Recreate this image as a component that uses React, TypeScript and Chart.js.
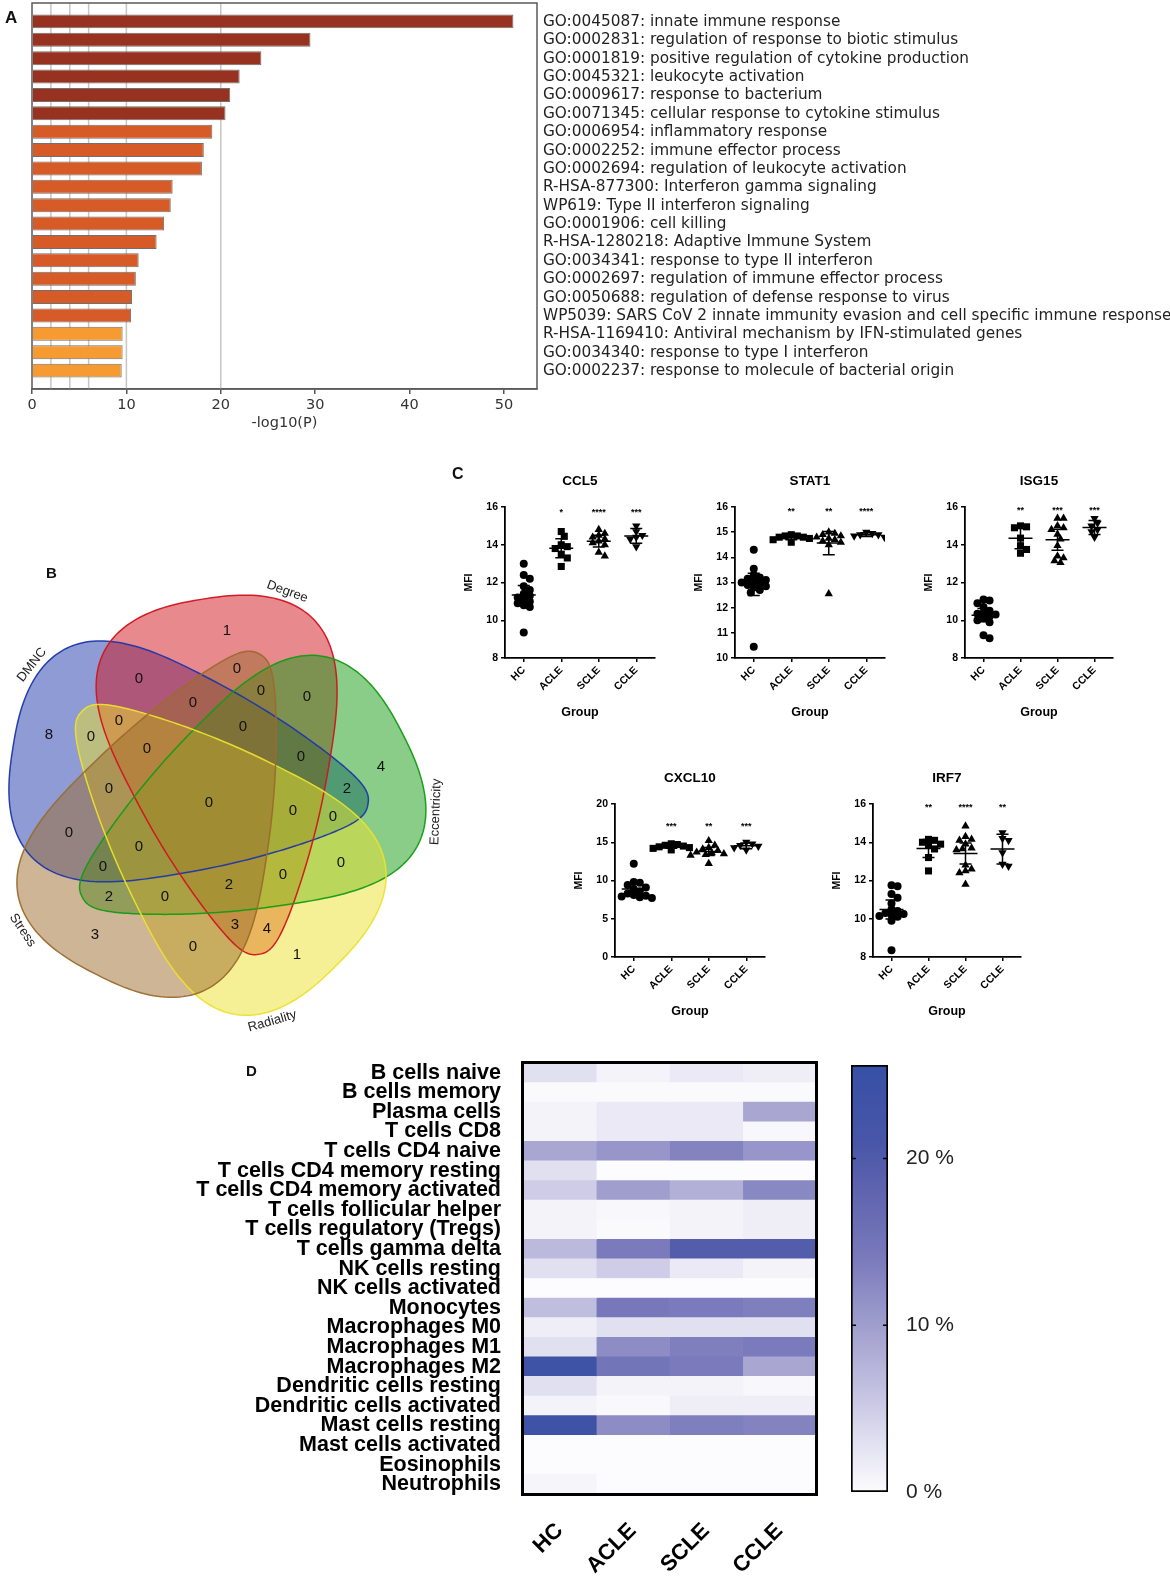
import React, { useEffect, useRef } from "react";
import { Chart, registerables } from "chart.js";

Chart.register(...registerables);
const SANS = '"Liberation Sans", Arial, sans-serif';
const DEJAVU = '"DejaVu Sans", sans-serif';
Chart.defaults.font.family = SANS;

// ---------------- Panel A data ----------------
const enrichTerms = [
  "GO:0045087: innate immune response",
  "GO:0002831: regulation of response to biotic stimulus",
  "GO:0001819: positive regulation of cytokine production",
  "GO:0045321: leukocyte activation",
  "GO:0009617: response to bacterium",
  "GO:0071345: cellular response to cytokine stimulus",
  "GO:0006954: inflammatory response",
  "GO:0002252: immune effector process",
  "GO:0002694: regulation of leukocyte activation",
  "R-HSA-877300: Interferon gamma signaling",
  "WP619: Type II interferon signaling",
  "GO:0001906: cell killing",
  "R-HSA-1280218: Adaptive Immune System",
  "GO:0034341: response to type II interferon",
  "GO:0002697: regulation of immune effector process",
  "GO:0050688: regulation of defense response to virus",
  "WP5039: SARS CoV 2 innate immunity evasion and cell specific immune response",
  "R-HSA-1169410: Antiviral mechanism by IFN-stimulated genes",
  "GO:0034340: response to type I interferon",
  "GO:0002237: response to molecule of bacterial origin",
];
const enrichLogP = [51.0, 29.5, 24.3, 22.0, 21.0, 20.5, 19.1, 18.2, 18.0, 14.9, 14.7, 14.0, 13.2, 11.3, 11.0, 10.6, 10.5, 9.6, 9.6, 9.5];
const enrichTicks = [0, 10, 20, 30, 40, 50];
const enrichGridLines = [2, 4, 6, 10, 20];

// ---------------- Panel B data ----------------
const vennSets = ["DMNC", "Degree", "Eccentricity", "Radiality", "Stress"];
const vennRegions = [
  "DMNC", "Degree", "Eccentricity", "Radiality", "Stress",
  "DMNC&Degree", "DMNC&Eccentricity", "DMNC&Radiality", "DMNC&Stress", "Degree&Eccentricity",
  "Degree&Radiality", "Degree&Stress", "Eccentricity&Radiality", "Eccentricity&Stress", "Radiality&Stress",
  "DMNC&Degree&Eccentricity", "DMNC&Degree&Radiality", "DMNC&Degree&Stress", "DMNC&Eccentricity&Radiality",
  "DMNC&Eccentricity&Stress", "DMNC&Radiality&Stress", "Degree&Eccentricity&Radiality", "Degree&Eccentricity&Stress",
  "Degree&Radiality&Stress", "Eccentricity&Radiality&Stress",
  "DMNC&Degree&Eccentricity&Radiality", "DMNC&Degree&Eccentricity&Stress", "DMNC&Degree&Radiality&Stress",
  "DMNC&Eccentricity&Radiality&Stress", "Degree&Eccentricity&Radiality&Stress",
  "DMNC&Degree&Eccentricity&Radiality&Stress",
];
const vennCounts = [
  8, 1, 4, 1, 3,
  0, 2, 0, 0, 0,
  4, 0, 0, 2, 0,
  0, 0, 0, 0,
  0, 0, 0, 0,
  3, 0,
  0, 0, 0,
  0, 2,
  0,
];

// ---------------- Panel C data ----------------
const groups = ["HC", "ACLE", "SCLE", "CCLE"];
const ccl5HC = [13.0, 12.4, 12.2, 11.8, 11.6, 11.4, 11.3, 11.2, 11.1, 11.0, 10.9, 10.8, 10.7, 9.35];
const ccl5ACLE = [14.7, 14.45, 14.0, 13.9, 13.8, 13.5, 13.3, 12.85];
const ccl5SCLE = [14.8, 14.6, 14.5, 14.4, 14.3, 14.2, 14.1, 14.0, 13.6, 13.4];
const ccl5CCLE = [15.0, 14.7, 14.5, 14.4, 14.3, 13.9];
const stat1HC = [14.3, 13.55, 13.3, 13.2, 13.15, 13.1, 13.05, 13.0, 12.95, 12.9, 12.85, 12.8, 12.7, 12.6, 10.45];
const stat1ACLE = [14.9, 14.85, 14.85, 14.8, 14.8, 14.75, 14.7, 14.6];
const stat1SCLE = [15.0, 14.95, 14.9, 14.85, 14.8, 14.75, 14.7, 14.65, 14.6, 14.5, 12.55];
const stat1CCLE = [15.0, 14.95, 14.9, 14.9, 14.85, 14.8];
const isg15HC = [11.1, 11.05, 10.9, 10.7, 10.5, 10.4, 10.35, 10.3, 10.2, 10.1, 10.0, 9.9, 9.2, 9.05];
const isg15ACLE = [15.0, 14.95, 14.9, 14.35, 13.95, 13.75, 13.55];
const isg15SCLE = [15.4, 15.4, 15.0, 14.9, 14.8, 14.55, 14.3, 13.95, 13.4, 13.3, 13.15, 13.05];
const isg15CCLE = [15.4, 15.15, 15.0, 14.8, 14.7, 14.4];
const cxcl10HC = [12.2, 9.8, 9.7, 9.4, 9.1, 8.9, 8.6, 8.3, 8.1, 8.0, 7.9, 7.8, 7.7];
const cxcl10ACLE = [14.8, 14.7, 14.6, 14.5, 14.4, 14.3, 14.2, 14.0];
const cxcl10SCLE = [15.2, 14.6, 14.3, 14.1, 13.9, 13.7, 13.6, 13.5, 13.4, 13.3, 12.2];
const cxcl10CCLE = [15.0, 14.8, 14.6, 14.5, 14.3, 14.0];
const irf7HC = [11.75, 11.7, 11.3, 11.1, 10.8, 10.5, 10.4, 10.3, 10.25, 10.2, 10.15, 10.1, 9.9, 8.35];
const irf7ACLE = [14.15, 14.1, 14.0, 13.9, 13.85, 13.65, 13.2, 12.5];
const irf7SCLE = [14.85, 14.3, 14.15, 14.1, 13.9, 13.7, 13.65, 13.6, 12.8, 12.6, 12.5, 12.4, 11.8];
const irf7CCLE = [14.5, 14.2, 14.1, 13.45, 12.85, 12.75];
const ccl5Stars = ["", "*", "****", "***"];
const stat1Stars = ["", "**", "**", "****"];
const isg15Stars = ["", "**", "***", "***"];
const cxcl10Stars = ["", "***", "**", "***"];
const irf7Stars = ["", "**", "****", "**"];
const mfiTicks8to16 = [8, 10, 12, 14, 16];
const mfiTicks10to16 = [10, 11, 12, 13, 14, 15, 16];
const mfiTicks0to20 = [0, 5, 10, 15, 20];

// ---------------- Panel D data ----------------
const cellTypes = [
  "B cells naive", "B cells memory", "Plasma cells", "T cells CD8", "T cells CD4 naive",
  "T cells CD4 memory resting", "T cells CD4 memory activated", "T cells follicular helper",
  "T cells regulatory (Tregs)", "T cells gamma delta", "NK cells resting", "NK cells activated",
  "Monocytes", "Macrophages M0", "Macrophages M1", "Macrophages M2", "Dendritic cells resting",
  "Dendritic cells activated", "Mast cells resting", "Mast cells activated", "Eosinophils", "Neutrophils",
];
const heatGroups = ["HC", "ACLE", "SCLE", "CCLE"];
const heatHC = [3, 0.2, 1, 1, 9, 3, 5, 1, 1, 7, 3, 0, 6.5, 1.5, 3, 23.5, 3, 1, 23.5, 0, 0, 0.8];
const heatACLE = [1, 0.2, 2, 2, 11, 0, 10, 0.5, 0.2, 14, 5, 0, 14.5, 3, 12, 15, 1, 0.3, 12, 0, 0, 0];
const heatSCLE = [2, 0.2, 2, 2, 13, 0, 8, 1, 1, 19.5, 2, 0, 14, 3, 13.5, 14, 1, 1.5, 13.5, 0, 0, 0];
const heatCCLE = [1.5, 0.2, 9, 0.5, 11, 0, 12.5, 1.5, 1.5, 19.5, 1, 0, 13.5, 3, 14, 9, 0.5, 1.5, 13, 0, 0, 0];
const colorbarTicks = [0, 10, 20];
const colorbarMax = 25.6;

// ---------------- styles ----------------
const heatStops: [number, number[]][] = [
  [0, [252, 252, 254]], [3, [225, 224, 240]], [6, [196, 194, 225]], [10, [160, 158, 205]],
  [14, [122, 122, 188]], [18, [95, 100, 175]], [21, [72, 86, 168]], [25.6, [55, 80, 165]],
];
function heatColor(v: number) {
  for (let i = 1; i < heatStops.length; i++) {
    const [v1, c1] = heatStops[i];
    const [v0, c0] = heatStops[i - 1];
    if (v <= v1) {
      const t = (v - v0) / (v1 - v0);
      const c = c0.map((a, k) => Math.round(a + (c1[k] - a) * t));
      return `rgb(${c[0]},${c[1]},${c[2]})`;
    }
  }
  const c = heatStops[heatStops.length - 1][1];
  return `rgb(${c[0]},${c[1]},${c[2]})`;
}
const vennColors = [[30, 55, 170], [210, 20, 30], [20, 155, 20], [235, 225, 45], [155, 108, 45]];
const VENN_BASE = { cx: 210, cy: 804, rLobe: 205, lobeAngle0: 196, labelOffset: 22 };
const VENN_NOMINAL = { B: 100, k: 0.6, p: 2.5, rTip: 158, tipDelta: 158 };
const VENN_SEARCH = { B: [95, 100, 105], k: [0.5, 0.6, 0.7], rTip: [152, 158, 165], tipDelta: [152, 158, 164] };
const VBOX = { x0: 0, y0: 560, w: 446, h: 480 };

// ---------------- Panel A ----------------
function barColor(v: number) {
  return v >= 20 ? "#96321f" : v >= 10 ? "#d65b26" : "#f59b32";
}
function makeEnrichment(canvas: HTMLCanvasElement) {
  const plugin = {
    id: "enrichDeco",
    beforeDatasetsDraw(chart: any) {
      const { ctx, chartArea: a, scales } = chart;
      ctx.save();
      ctx.strokeStyle = "#c6c6c6";
      ctx.lineWidth = 1.5;
      enrichGridLines.forEach((v) => {
        const px = scales.x.getPixelForValue(v);
        ctx.beginPath();
        ctx.moveTo(px, a.top);
        ctx.lineTo(px, a.bottom);
        ctx.stroke();
      });
      ctx.restore();
    },
    afterDatasetsDraw(chart: any) {
      const { ctx, chartArea: a, scales } = chart;
      ctx.save();
      ctx.strokeStyle = "#5a5a5a";
      ctx.lineWidth = 1.5;
      ctx.strokeRect(a.left, a.top, a.right - a.left, a.bottom - a.top);
      ctx.fillStyle = "#222";
      ctx.font = `15.3px ${DEJAVU}`;
      ctx.textBaseline = "middle";
      ctx.textAlign = "left";
      enrichTerms.forEach((t, i) => ctx.fillText(t, a.right + 6, scales.y.getPixelForValue(i) + 0.5));
      ctx.restore();
    },
  };
  return new Chart(canvas, {
    type: "bar",
    data: {
      datasets: [
        {
          data: enrichLogP.map((v, i) => ({ x: v, y: i })),
          backgroundColor: enrichLogP.map(barColor),
          borderColor: "#707070",
          borderWidth: 1,
          barPercentage: 0.76,
          categoryPercentage: 1,
        } as any,
      ],
    },
    options: {
      indexAxis: "y",
      animation: false,
      responsive: false,
      events: [],
      layout: { padding: { left: 32, right: 633, top: 3, bottom: 0 } },
      plugins: { legend: { display: false }, tooltip: { enabled: false } },
      scales: {
        x: {
          type: "linear",
          min: 0,
          max: 53.5,
          afterBuildTicks: (s: any) => {
            s.ticks = enrichTicks.map((v) => ({ value: v }));
          },
          afterFit: (s: any) => {
            s.height = 47;
          },
          ticks: { font: { family: DEJAVU, size: 14.5 }, color: "#333", padding: 3 },
          grid: { drawOnChartArea: false, tickLength: 5, color: "#555", lineWidth: 1.5 },
          border: { color: "#5a5a5a", width: 1.5 },
          title: { display: true, text: "-log10(P)", font: { family: DEJAVU, size: 14.5 }, color: "#333", padding: { top: 4, bottom: 4 } },
        },
        y: { type: "linear", min: -1, max: 20, reverse: true, offset: false, display: false },
      },
    } as any,
    plugins: [plugin],
  });
}

// ---------------- Panel B ----------------
function vennShape(i: number, prm: any) {
  const th = ((VENN_BASE.lobeAngle0 + 72 * i) * Math.PI) / 180;
  const tt = th + (prm.tipDelta * Math.PI) / 180;
  const L = [VENN_BASE.cx + VENN_BASE.rLobe * Math.cos(th), VENN_BASE.cy + VENN_BASE.rLobe * Math.sin(th)];
  const T = [VENN_BASE.cx + prm.rTip * Math.cos(tt), VENN_BASE.cy + prm.rTip * Math.sin(tt)];
  return {
    mx: (L[0] + T[0]) / 2,
    my: (L[1] + T[1]) / 2,
    A: Math.hypot(L[0] - T[0], L[1] - T[1]) / 2,
    rot: Math.atan2(L[1] - T[1], L[0] - T[0]),
    th,
    B: prm.B,
    k: prm.k,
    p: prm.p,
  };
}
function inShape(s: any, x: number, y: number) {
  const dx = x - s.mx, dy = y - s.my;
  const c = Math.cos(s.rot), sn = Math.sin(s.rot);
  const u = dx * c + dy * sn, v = -dx * sn + dy * c;
  if (Math.abs(u) >= s.A) return false;
  const b = s.B * (1 + (s.k * u) / s.A);
  return Math.pow(Math.abs(u / s.A), s.p) + Math.pow(Math.abs(v / b), s.p) <= 1;
}
function shapePoint(s: any, t: number) {
  const ct = Math.cos(t), st = Math.sin(t);
  const u = s.A * Math.sign(ct) * Math.pow(Math.abs(ct), 2 / s.p);
  const b = s.B * (1 + (s.k * u) / s.A);
  const v = b * Math.sign(st) * Math.pow(Math.abs(st), 2 / s.p);
  const c = Math.cos(s.rot), sn = Math.sin(s.rot);
  return [s.mx + u * c - v * sn, s.my + u * sn + v * c];
}
function analyseVenn(shapes: any[], step: number) {
  const x0 = VBOX.x0, y0 = VBOX.y0, nx = Math.floor(VBOX.w / step), ny = Math.floor(VBOX.h / step);
  const mask = new Int32Array(nx * ny);
  for (let j = 0; j < ny; j++)
    for (let i = 0; i < nx; i++) {
      const px = x0 + (i + 0.5) * step, py = y0 + (j + 0.5) * step;
      let m = 0;
      for (let k = 0; k < shapes.length; k++) if (inShape(shapes[k], px, py)) m |= 1 << k;
      mask[j * nx + i] = m;
    }
  const d = new Float32Array(nx * ny);
  for (let j = 0; j < ny; j++)
    for (let i = 0; i < nx; i++) {
      const idx = j * nx + i, m = mask[idx];
      let edge = i === 0 || j === 0 || i === nx - 1 || j === ny - 1;
      if (!edge) edge = mask[idx - 1] !== m || mask[idx + 1] !== m || mask[idx - nx] !== m || mask[idx + nx] !== m;
      d[idx] = edge ? 0 : 1e9;
    }
  for (let j = 0; j < ny; j++)
    for (let i = 0; i < nx; i++) {
      const idx = j * nx + i;
      let v = d[idx];
      if (i > 0) v = Math.min(v, d[idx - 1] + 1);
      if (j > 0) {
        v = Math.min(v, d[idx - nx] + 1);
        if (i > 0) v = Math.min(v, d[idx - nx - 1] + 1.414);
        if (i < nx - 1) v = Math.min(v, d[idx - nx + 1] + 1.414);
      }
      d[idx] = v;
    }
  for (let j = ny - 1; j >= 0; j--)
    for (let i = nx - 1; i >= 0; i--) {
      const idx = j * nx + i;
      let v = d[idx];
      if (i < nx - 1) v = Math.min(v, d[idx + 1] + 1);
      if (j < ny - 1) {
        v = Math.min(v, d[idx + nx] + 1);
        if (i < nx - 1) v = Math.min(v, d[idx + nx + 1] + 1.414);
        if (i > 0) v = Math.min(v, d[idx + nx - 1] + 1.414);
      }
      d[idx] = v;
    }
  // per-region maximum depth and centroid
  const maxD = new Float32Array(32);
  const sx = new Float64Array(32), sy = new Float64Array(32), cnt = new Float64Array(32);
  for (let j = 0; j < ny; j++)
    for (let i = 0; i < nx; i++) {
      const idx = j * nx + i, m = mask[idx];
      if (!m) continue;
      if (d[idx] > maxD[m]) maxD[m] = d[idx];
      sx[m] += i;
      sy[m] += j;
      cnt[m] += 1;
    }
  // label point: among deep-enough cells, the one nearest the region centroid
  const best = new Map<number, any>();
  for (let j = 0; j < ny; j++)
    for (let i = 0; i < nx; i++) {
      const idx = j * nx + i, m = mask[idx];
      if (!m || d[idx] < 0.72 * maxD[m]) continue;
      const gx = sx[m] / cnt[m], gy = sy[m] / cnt[m];
      const dist = Math.hypot(i - gx, j - gy);
      const cur = best.get(m);
      if (!cur || dist < cur.dist) best.set(m, { d: maxD[m], dist, x: x0 + (i + 0.5) * step, y: y0 + (j + 0.5) * step });
    }
  let minDepth = Infinity;
  for (let m = 1; m < 32; m++) minDepth = Math.min(minDepth, cnt[m] ? maxD[m] * step : 0);
  return { best, minDepth };
}
function chooseVennParams() {
  const nominalShapes = vennSets.map((_, i) => vennShape(i, VENN_NOMINAL));
  if (analyseVenn(nominalShapes, 4).minDepth >= 6) return VENN_NOMINAL;
  let chosen: any = null, chosenDist = Infinity, fallback: any = VENN_NOMINAL, fallbackDepth = -1;
  for (const B of VENN_SEARCH.B)
    for (const k of VENN_SEARCH.k)
      for (const rTip of VENN_SEARCH.rTip)
        for (const tipDelta of VENN_SEARCH.tipDelta) {
          const prm = { B, k, p: VENN_NOMINAL.p, rTip, tipDelta };
          const shapes = vennSets.map((_, i) => vennShape(i, prm));
          const { minDepth } = analyseVenn(shapes, 4);
          const dist =
            Math.abs(B - VENN_NOMINAL.B) / 5 +
            Math.abs(k - VENN_NOMINAL.k) / 0.1 +
            Math.abs(rTip - VENN_NOMINAL.rTip) / 7 +
            Math.abs(tipDelta - VENN_NOMINAL.tipDelta) / 6;
          if (minDepth >= 6 && dist < chosenDist) {
            chosen = prm;
            chosenDist = dist;
          }
          if (minDepth > fallbackDepth) {
            fallback = prm;
            fallbackDepth = minDepth;
          }
        }
  return chosen || fallback;
}
function makeVenn(canvas: HTMLCanvasElement) {
  const prm = chooseVennParams();
  const shapes = vennSets.map((_, i) => vennShape(i, prm));
  const labels = analyseVenn(shapes, 2).best;
  const plugin = {
    id: "venn",
    afterDatasetsDraw(chart: any) {
      const { ctx, scales } = chart;
      const P = (p: number[]) => [scales.x.getPixelForValue(p[0]), scales.y.getPixelForValue(p[1])];
      const path = (s: any) => {
        ctx.beginPath();
        for (let k = 0; k <= 240; k++) {
          const [px, py] = P(shapePoint(s, (k / 240) * Math.PI * 2));
          if (k === 0) ctx.moveTo(px, py);
          else ctx.lineTo(px, py);
        }
        ctx.closePath();
      };
      ctx.save();
      shapes.forEach((s, i) => {
        const c = vennColors[i];
        path(s);
        ctx.fillStyle = `rgba(${c[0]},${c[1]},${c[2]},0.5)`;
        ctx.fill();
      });
      shapes.forEach((s, i) => {
        const c = vennColors[i];
        path(s);
        ctx.strokeStyle = `rgba(${c[0]},${c[1]},${c[2]},0.95)`;
        ctx.lineWidth = 1.5;
        ctx.stroke();
      });
      ctx.fillStyle = "#111";
      ctx.font = `15px ${SANS}`;
      ctx.textAlign = "center";
      ctx.textBaseline = "middle";
      vennRegions.forEach((name, r) => {
        const m = name.split("&").reduce((acc, n) => acc | (1 << vennSets.indexOf(n)), 0);
        const p = labels.get(m);
        if (!p) return;
        const [px, py] = P([p.x, p.y]);
        ctx.fillText(String(vennCounts[r]), px, py);
      });
      ctx.font = `13px ${SANS}`;
      ctx.fillStyle = "#222";
      shapes.forEach((s, i) => {
        const ang = s.th + (VENN_BASE.labelOffset * Math.PI) / 180;
        let r = 60;
        while (r < 300 && inShape(s, VENN_BASE.cx + r * Math.cos(ang), VENN_BASE.cy + r * Math.sin(ang))) r += 1;
        r += 9;
        const pos = P([VENN_BASE.cx + r * Math.cos(ang), VENN_BASE.cy + r * Math.sin(ang)]);
        let rot = ang + Math.PI / 2;
        while (rot > Math.PI) rot -= 2 * Math.PI;
        while (rot <= -Math.PI) rot += 2 * Math.PI;
        if (rot > Math.PI / 2) rot -= Math.PI;
        if (rot < -Math.PI / 2) rot += Math.PI;
        ctx.save();
        ctx.translate(pos[0], pos[1]);
        ctx.rotate(rot);
        ctx.fillText(vennSets[i], 0, 0);
        ctx.restore();
      });
      ctx.restore();
    },
  };
  return new Chart(canvas, {
    type: "scatter",
    data: { datasets: [] },
    options: {
      animation: false,
      responsive: false,
      events: [],
      layout: { padding: 0 },
      plugins: { legend: { display: false }, tooltip: { enabled: false } },
      scales: {
        x: { type: "linear", min: VBOX.x0, max: VBOX.x0 + VBOX.w, display: false },
        y: { type: "linear", min: VBOX.y0, max: VBOX.y0 + VBOX.h, reverse: true, display: false },
      },
    } as any,
    plugins: [plugin],
  });
}

// ---------------- Panel C ----------------
const genePanels = [
  { title: "CCL5", values: [ccl5HC, ccl5ACLE, ccl5SCLE, ccl5CCLE], stars: ccl5Stars, ticks: mfiTicks8to16, starY: 15.85, left: 505, right: 655, top: 507, bottom: 658 },
  { title: "STAT1", values: [stat1HC, stat1ACLE, stat1SCLE, stat1CCLE], stars: stat1Stars, ticks: mfiTicks10to16, starY: 15.95, left: 735, right: 885, top: 507, bottom: 658 },
  { title: "ISG15", values: [isg15HC, isg15ACLE, isg15SCLE, isg15CCLE], stars: isg15Stars, ticks: mfiTicks8to16, starY: 15.95, left: 965, right: 1113, top: 507, bottom: 658 },
  { title: "CXCL10", values: [cxcl10HC, cxcl10ACLE, cxcl10SCLE, cxcl10CCLE], stars: cxcl10Stars, ticks: mfiTicks0to20, starY: 17.4, left: 615, right: 765, top: 804, bottom: 957 },
  { title: "IRF7", values: [irf7HC, irf7ACLE, irf7SCLE, irf7CCLE], stars: irf7Stars, ticks: mfiTicks8to16, starY: 15.95, left: 873, right: 1021, top: 804, bottom: 957 },
];
const DOT_PAD = { left: 55, top: 45, right: 12, bottom: 75 };
const markerStyles = ["circle", "rect", "triangle", "triangle"];
const markerRadius = [4, 5, 4.8, 4.8];
const markerRotation = [0, 0, 0, 180];
const T95 = [0, 12.706, 4.303, 3.182, 2.776, 2.571, 2.447, 2.365, 2.306, 2.262, 2.228, 2.201, 2.179, 2.16, 2.145, 2.131, 2.12];
function summary(vals: number[]) {
  const n = vals.length;
  const mean = vals.reduce((a, b) => a + b, 0) / n;
  const sd = Math.sqrt(vals.reduce((a, b) => a + (b - mean) * (b - mean), 0) / (n - 1));
  const t = T95[n - 1] || 2.1;
  const h = (t * sd) / Math.sqrt(n);
  return { mean, lo: mean - h, hi: mean + h };
}
function swarmOffsets(vals: number[], pxPerY: number, diam: number) {
  const order = vals.map((_, i) => i).sort((a, b) => vals[b] - vals[a]);
  const placed: number[][] = [];
  const out = new Array(vals.length).fill(0);
  const step = diam * 0.55;
  order.forEach((i) => {
    const py = vals[i] * pxPerY;
    for (let k = 0; k < 40; k++) {
      const cand = k === 0 ? 0 : (k % 2 ? 1 : -1) * Math.ceil(k / 2) * step;
      if (placed.every((p) => Math.hypot(p[0] - cand, p[1] - py) >= diam)) {
        out[i] = cand;
        placed.push([cand, py]);
        return;
      }
    }
  });
  return out;
}
function makeDotPlot(canvas: HTMLCanvasElement, g: any) {
  const plotW = g.right - g.left, plotH = g.bottom - g.top;
  const yMin = g.ticks[0], yMax = g.ticks[g.ticks.length - 1];
  const pxX = plotW / 4, pxY = plotH / (yMax - yMin);
  const statPts: any[] = [];
  g.values.forEach((vals: number[], gi: number) => {
    const { mean, lo, hi } = summary(vals);
    const mw = 12 / pxX, cw = 6 / pxX;
    statPts.push(
      { x: gi - mw, y: mean }, { x: gi + mw, y: mean }, { x: gi, y: null },
      { x: gi, y: lo }, { x: gi, y: hi }, { x: gi, y: null },
      { x: gi - cw, y: lo }, { x: gi + cw, y: lo }, { x: gi, y: null },
      { x: gi - cw, y: hi }, { x: gi + cw, y: hi }, { x: gi, y: null }
    );
  });
  const datasets: any[] = [
    { type: "line", data: statPts, borderColor: "#000", borderWidth: 1.5, pointRadius: 0, showLine: true, spanGaps: false, fill: false },
  ];
  g.values.forEach((vals: number[], gi: number) => {
    const offs = swarmOffsets(vals, pxY, 5.5);
    datasets.push({
      type: "scatter",
      data: vals.map((v, k) => ({ x: gi + offs[k] / pxX, y: v })),
      pointStyle: markerStyles[gi],
      pointRadius: markerRadius[gi],
      pointRotation: markerRotation[gi],
      backgroundColor: "#000",
      borderColor: "#000",
      borderWidth: 0,
    });
  });
  const plugin = {
    id: "dotText",
    afterDraw(chart: any) {
      const { ctx, chartArea: a, scales } = chart;
      const cx = (a.left + a.right) / 2;
      ctx.save();
      ctx.fillStyle = "#000";
      ctx.textAlign = "center";
      ctx.textBaseline = "middle";
      ctx.font = `bold 13.5px ${SANS}`;
      ctx.fillText(g.title, cx, a.top - 26);
      ctx.font = `bold 12.5px ${SANS}`;
      ctx.fillText("Group", cx, a.bottom + 55);
      ctx.save();
      ctx.translate(a.left - 36, (a.top + a.bottom) / 2);
      ctx.rotate(-Math.PI / 2);
      ctx.font = `bold 10.5px ${SANS}`;
      ctx.fillText("MFI", 0, 0);
      ctx.restore();
      ctx.font = `bold 9px ${SANS}`;
      g.stars.forEach((s: string, i: number) => {
        if (s) ctx.fillText(s, scales.x.getPixelForValue(i), scales.y.getPixelForValue(g.starY) + 3);
      });
      ctx.restore();
    },
  };
  return new Chart(canvas, {
    type: "scatter",
    data: { datasets },
    options: {
      animation: false,
      responsive: false,
      events: [],
      layout: { padding: { left: 0, top: DOT_PAD.top, right: DOT_PAD.right, bottom: 0 } },
      plugins: { legend: { display: false }, tooltip: { enabled: false } },
      scales: {
        x: {
          type: "linear",
          min: -0.5,
          max: 3.5,
          afterBuildTicks: (s: any) => {
            s.ticks = groups.map((_, i) => ({ value: i }));
          },
          afterFit: (s: any) => {
            s.height = DOT_PAD.bottom;
          },
          ticks: {
            callback: (v: any) => groups[Math.round(v)],
            font: { size: 10.5, weight: "bold" },
            color: "#000",
            minRotation: 45,
            maxRotation: 45,
            autoSkip: false,
            padding: 2,
          },
          grid: { drawOnChartArea: false, tickLength: 4, color: "#000", lineWidth: 1.5 },
          border: { color: "#000", width: 1.8 },
        },
        y: {
          type: "linear",
          min: yMin,
          max: yMax,
          afterBuildTicks: (s: any) => {
            s.ticks = g.ticks.map((v: number) => ({ value: v }));
          },
          afterFit: (s: any) => {
            s.width = DOT_PAD.left;
          },
          ticks: { font: { size: 10.5, weight: "bold" }, color: "#000", padding: 3 },
          grid: { drawOnChartArea: false, tickLength: 4, color: "#000", lineWidth: 1.5 },
          border: { color: "#000", width: 1.8 },
        },
      },
    } as any,
    plugins: [plugin],
  });
}

// ---------------- Panel D ----------------
const HEAT = { left: 180, top: 1050, width: 650, height: 526, areaLeft: 523, areaRight: 816, areaTop: 1063, areaBottom: 1494 };
function makeHeatmap(canvas: HTMLCanvasElement) {
  const cols = [heatHC, heatACLE, heatSCLE, heatCCLE];
  const plugin = {
    id: "heatFrame",
    afterDatasetsDraw(chart: any) {
      const { ctx, chartArea: a } = chart;
      ctx.save();
      ctx.strokeStyle = "#000";
      ctx.lineWidth = 3;
      ctx.strokeRect(a.left - 0.5, a.top - 0.5, a.right - a.left + 1, a.bottom - a.top + 1);
      ctx.restore();
    },
  };
  return new Chart(canvas, {
    type: "bar",
    data: {
      labels: cellTypes,
      datasets: cols.map((vals, j) => ({
        data: vals.map(() => [j, j + 1]),
        backgroundColor: vals.map(heatColor),
        borderWidth: 0,
        grouped: false,
        barPercentage: 1,
        categoryPercentage: 1,
      })) as any,
    },
    options: {
      indexAxis: "y",
      animation: false,
      responsive: false,
      events: [],
      layout: {
        padding: { left: 0, top: HEAT.areaTop - HEAT.top, right: HEAT.left + HEAT.width - HEAT.areaRight, bottom: 0 },
      },
      plugins: { legend: { display: false }, tooltip: { enabled: false } },
      scales: {
        x: {
          type: "linear",
          min: 0,
          max: 4,
          afterBuildTicks: (s: any) => {
            s.ticks = heatGroups.map((_, i) => ({ value: i + 0.5 }));
          },
          afterFit: (s: any) => {
            s.height = HEAT.top + HEAT.height - HEAT.areaBottom;
            s.paddingLeft = 0;
            s.paddingRight = 0;
          },
          ticks: {
            callback: (v: any) => heatGroups[Math.floor(v)],
            font: { size: 22, weight: "bold" },
            color: "#000",
            minRotation: 45,
            maxRotation: 45,
            autoSkip: false,
            padding: 16,
          },
          grid: { display: false },
          border: { display: false },
        },
        y: {
          type: "category",
          afterFit: (s: any) => {
            s.width = HEAT.areaLeft - HEAT.left;
            s.paddingTop = 0;
            s.paddingBottom = 0;
          },
          ticks: { font: { size: 21.5, weight: "bold" }, color: "#000", padding: 14, autoSkip: false },
          grid: { display: false },
          border: { display: false },
        },
      },
    } as any,
    plugins: [plugin],
  });
}
const CBAR = { left: 830, top: 1050, width: 140, height: 526, areaLeft: 851, areaRight: 888, areaTop: 1065, areaBottom: 1492 };
function makeColorbar(canvas: HTMLCanvasElement) {
  const plugin = {
    id: "cbarTicks",
    afterDatasetsDraw(chart: any) {
      const { ctx, chartArea: a, scales } = chart;
      ctx.save();
      ctx.strokeStyle = "#000";
      ctx.lineWidth = 1.5;
      colorbarTicks.forEach((v) => {
        if (v === 0) return;
        const py = scales.y.getPixelForValue(v);
        ctx.beginPath();
        ctx.moveTo(a.left, py);
        ctx.lineTo(a.left + 5, py);
        ctx.moveTo(a.right - 5, py);
        ctx.lineTo(a.right, py);
        ctx.stroke();
      });
      ctx.restore();
    },
  };
  return new Chart(canvas, {
    type: "bar",
    data: {
      labels: [""],
      datasets: [
        {
          data: [[0, colorbarMax]],
          backgroundColor: (c: any) => {
            const ch = c.chart;
            const ys = ch.scales && ch.scales.y;
            if (!ys || !ch.chartArea) return "#999";
            const grad = ch.ctx.createLinearGradient(0, ys.getPixelForValue(0), 0, ys.getPixelForValue(colorbarMax));
            heatStops.forEach(([v, col]) => grad.addColorStop(Math.min(1, v / colorbarMax), `rgb(${col[0]},${col[1]},${col[2]})`));
            return grad;
          },
          borderColor: "#000",
          borderWidth: 2,
          borderSkipped: false,
          barPercentage: 1,
          categoryPercentage: 1,
        } as any,
      ],
    },
    options: {
      animation: false,
      responsive: false,
      events: [],
      layout: {
        padding: { left: CBAR.areaLeft - CBAR.left, top: CBAR.areaTop - CBAR.top, right: 0, bottom: CBAR.top + CBAR.height - CBAR.areaBottom },
      },
      plugins: { legend: { display: false }, tooltip: { enabled: false } },
      scales: {
        x: { display: false },
        y: {
          position: "right",
          min: 0,
          max: colorbarMax,
          afterBuildTicks: (s: any) => {
            s.ticks = colorbarTicks.map((v) => ({ value: v }));
          },
          afterFit: (s: any) => {
            s.width = CBAR.left + CBAR.width - CBAR.areaRight;
            s.paddingTop = 0;
            s.paddingBottom = 0;
          },
          ticks: { callback: (v: any) => `${v} %`, font: { size: 21 }, color: "#222", padding: 10 },
          grid: { display: false },
          border: { display: false },
        },
      },
    } as any,
    plugins: [plugin],
  });
}

// ---------------- App ----------------
const canvasBoxes = [
  { left: 0, top: 0, width: 1170, height: 436 },
  { left: VBOX.x0, top: VBOX.y0, width: VBOX.w, height: VBOX.h },
  ...genePanels.map((g) => ({
    left: g.left - DOT_PAD.left,
    top: g.top - DOT_PAD.top,
    width: g.right - g.left + DOT_PAD.left + DOT_PAD.right,
    height: g.bottom - g.top + DOT_PAD.top + DOT_PAD.bottom,
  })),
  { left: HEAT.left, top: HEAT.top, width: HEAT.width, height: HEAT.height },
  { left: CBAR.left, top: CBAR.top, width: CBAR.width, height: CBAR.height },
];
const panelLetters = [
  { t: "A", x: 5, y: 9, size: 17 },
  { t: "B", x: 46, y: 565, size: 15 },
  { t: "C", x: 452, y: 466, size: 16 },
  { t: "D", x: 246, y: 1063, size: 15 },
];

export default function App() {
  const refs = useRef<(HTMLCanvasElement | null)[]>([]);
  useEffect(() => {
    const c = refs.current as HTMLCanvasElement[];
    const charts: Chart[] = [];
    charts.push(makeEnrichment(c[0]));
    charts.push(makeVenn(c[1]));
    genePanels.forEach((g, i) => charts.push(makeDotPlot(c[2 + i], g)));
    charts.push(makeHeatmap(c[7]));
    charts.push(makeColorbar(c[8]));
    return () => charts.forEach((ch) => ch.destroy());
  }, []);
  return (
    <div style={{ position: "absolute", left: 0, top: 0, width: 1170, height: 1576, background: "#fff", overflow: "hidden" }}>
      {canvasBoxes.map((b, i) => (
        <canvas
          key={i}
          ref={(el) => {
            refs.current[i] = el;
          }}
          width={b.width}
          height={b.height}
          style={{ position: "absolute", left: b.left, top: b.top, width: b.width, height: b.height }}
        />
      ))}
      {panelLetters.map((p) => (
        <div
          key={p.t}
          style={{ position: "absolute", left: p.x, top: p.y, fontFamily: SANS, fontWeight: "bold", fontSize: p.size, lineHeight: 1, color: "#111" }}
        >
          {p.t}
        </div>
      ))}
    </div>
  );
}
